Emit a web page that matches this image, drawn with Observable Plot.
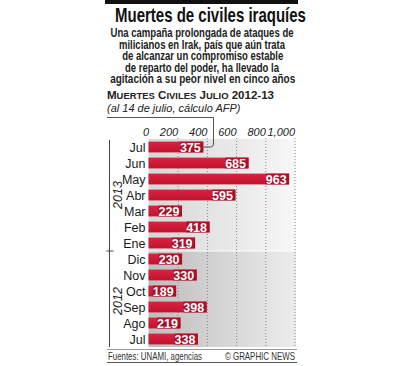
<!DOCTYPE html>
<html><head><meta charset="utf-8">
<script src="https://cdn.jsdelivr.net/npm/d3@7"></script>
<script src="https://cdn.jsdelivr.net/npm/@observablehq/plot@0.6"></script>
<style>
body{margin:0;background:#fff;font-family:"Liberation Sans",Arial,sans-serif;}
#wrap{position:relative;width:404px;height:366px;overflow:hidden;}
.abs{position:absolute;}
.fit{display:inline-block;white-space:nowrap;}
#topbar{left:105px;top:0;width:193px;height:3.5px;background:#111;}
#title{left:80px;width:245px;top:3px;text-align:center;font-weight:bold;font-size:20.5px;line-height:24px;color:#111;}
.sub{left:80px;width:245px;text-align:center;font-weight:bold;font-size:12px;line-height:11.3px;color:#222;}
#kicker{left:107px;top:89px;font-weight:bold;color:#222;white-space:nowrap;font-size:11px;line-height:13px;}
#kicker .s{font-size:9px;}
#note{left:107px;top:102px;font-style:italic;font-size:11px;color:#222;white-space:nowrap;}
#plot{left:0;top:110px;}
#foot1{left:107px;top:349px;width:190px;height:1px;background:#999;}
#foot2{left:107px;top:361.5px;width:190px;height:1.3px;background:#555;}
#src{left:108px;top:350.5px;font-size:10.4px;color:#333;}
#cr{left:200px;width:95px;text-align:right;top:350.5px;font-size:10.4px;color:#333;}
</style></head>
<body>
<div id="wrap">
  <div id="topbar" class="abs"></div>
  <div id="title" class="abs"><span class="fit" data-w="191">Muertes de civiles iraquíes</span></div>
  <div class="abs sub" style="top:28px"><span class="fit" data-w="183">Una campaña prolongada de ataques de</span></div>
  <div class="abs sub" style="top:39.5px"><span class="fit" data-w="166">milicianos en Irak, país que aún trata</span></div>
  <div class="abs sub" style="top:51px"><span class="fit" data-w="161">de alcanzar un compromiso estable</span></div>
  <div class="abs sub" style="top:62.5px"><span class="fit" data-w="154">de reparto del poder, ha llevado la</span></div>
  <div class="abs sub" style="top:74px"><span class="fit" data-w="185">agitación a su peor nivel en cinco años</span></div>
  <div id="kicker" class="abs"><span class="fit" data-w="167" data-origin="left">M<span class="s">UERTES</span> C<span class="s">IVILES</span> J<span class="s">ULIO</span> 2012-13</span></div>
  <div id="note" class="abs">(al 14 de julio, cálculo AFP)</div>
  <div id="plot" class="abs"></div>
  <div id="foot1" class="abs"></div>
  <div id="foot2" class="abs"></div>
  <div id="src" class="abs"><span class="fit" data-w="94" data-origin="left">Fuentes: UNAMI, agencias</span></div>
  <div id="cr" class="abs"><span class="fit" data-w="70" data-origin="right">© GRAPHIC NEWS</span></div>
</div>
<script>
const months = ["Jul","Jun","May","Abr","Mar","Feb","Ene","Dic","Nov","Oct","Sep","Ago","Jul"];
const years  = [2013,2013,2013,2013,2013,2013,2013,2012,2012,2012,2012,2012,2012];
const deaths = [375,685,963,595,229,418,319,230,330,189,398,219,338];
const xTicks = [0,200,400,600,800,1000];
const yearLabels = ["2013","2012"];

document.querySelectorAll(".fit").forEach(el=>{
  const w = el.getBoundingClientRect().width;
  const t = +el.dataset.w;
  el.style.transformOrigin = (el.dataset.origin||"center")+" center";
  el.style.transform = `scaleX(${t/w})`;
});

const data = months.map((m,i)=>({key:m+" "+years[i], month:m, year:years[i], v:deaths[i]}));
const keys = data.map(d=>d.key);
const labelOf = Object.fromEntries(data.map(d=>[d.key,d.month]));

const plot = Plot.plot({
  width:404, height:241,
  marginLeft:148.5, marginRight:109.5, marginTop:28, marginBottom:3,
  style:{fontFamily:"Liberation Sans, Arial, sans-serif", background:"transparent", overflow:"visible"},
  x:{domain:[0,1000], axis:null, label:null},
  y:{domain:keys, padding:0, axis:null, label:null},
  marks:[
    Plot.barX(data,{y:"key", x1:0, x2:1010, fill:d=>d.year===2013?"url(#bg13)":"url(#bg12)"}),
    Plot.ruleX(xTicks.slice(1),{stroke:"#8a8a8a", strokeDasharray:"1,2", strokeWidth:1}),
    Plot.barX(data,{y:"key", x1:0, x2:"v", fill:"url(#barG)", insetTop:2.6, insetBottom:2.6}),
    Plot.barX(data,{y:"key", x1:d=>d.v-160, x2:"v", fill:"url(#barD)", insetTop:2.6, insetBottom:2.6}),
    Plot.text(data,{y:"key", x:"v", text:d=>String(d.v), textAnchor:"end", dx:-3, fill:"white", fontWeight:"bold", fontSize:12.5}),
    Plot.axisX({anchor:"top", label:null, ticks:xTicks, tickSize:0, tickPadding:3, tickFormat:d3.format(","), textAnchor:"end", fontStyle:"italic", fontSize:11, fill:"#222"}),
    Plot.axisY({anchor:"left", label:null, tickSize:0, tickPadding:3.5, tickFormat:k=>labelOf[k], fontSize:12.5, fill:"#1a1a1a"})
  ]
});
document.getElementById("plot").appendChild(plot);

const svg = d3.select(plot);
const defs = svg.insert("defs",":first-child");
function hgrad(id,a,b){const g=defs.append("linearGradient").attr("id",id).attr("x1",0).attr("x2",1).attr("y1",0).attr("y2",0);g.append("stop").attr("offset","0%").attr("stop-color",a);g.append("stop").attr("offset","100%").attr("stop-color",b);}
function vgrad(id,a,b){const g=defs.append("linearGradient").attr("id",id).attr("x1",0).attr("x2",0).attr("y1",0).attr("y2",1);g.append("stop").attr("offset","0%").attr("stop-color",a);g.append("stop").attr("offset","100%").attr("stop-color",b);}
hgrad("bg13","#d6d6d6","#f7f7f7");
hgrad("bg12","#bdbdbd","#ececec");
vgrad("barG","#d9233f","#c0142f");
vgrad("barD","#b0142e","#9a0f27");

const xs = plot.scale("x"), ys = plot.scale("y");
const bw = ys.bandwidth;
const top13 = ys.apply(keys[0]);
const sep = ys.apply("Ene 2013")+bw;
const bot = ys.apply(keys[keys.length-1])+bw;
const g = svg.append("g");
g.append("line").attr("x1",xs.apply(0)).attr("x2",xs.apply(1010)).attr("y1",sep).attr("y2",sep).attr("stroke","#fff").attr("stroke-width",1);
const bx = 109.5;
g.append("line").attr("x1",bx).attr("x2",bx).attr("y1",top13+1).attr("y2",bot).attr("stroke","#444");
g.append("line").attr("x1",bx-3).attr("x2",bx+4).attr("y1",sep).attr("y2",sep).attr("stroke","#444");
const mid13 = (top13+sep)/2, mid12=(sep+bot)/2;
[[yearLabels[0],mid13],[yearLabels[1],mid12+2]].forEach(([t,yy])=>{
  g.append("text").attr("transform",`translate(${bx+8},${yy}) rotate(-90)`).attr("text-anchor","middle").attr("dy","0.35em")
   .attr("font-style","italic").attr("font-size",12.5).attr("fill","#222").text(t);
});
const jy = ys.apply(keys[0])+bw/2;
const xe = xs.apply(deaths[0]);
g.append("path").attr("d",`M107,7.5H213.5V${jy-3}Q213.5,${jy} 210.5,${jy}H${xe}`).attr("fill","none").attr("stroke","#555").attr("stroke-width",1);
</script>
</body></html>
